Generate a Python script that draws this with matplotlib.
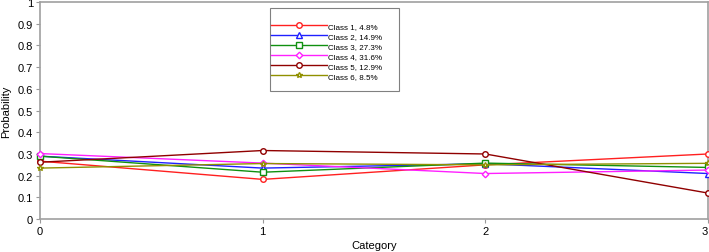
import matplotlib.pyplot as plt
from matplotlib.patches import Rectangle
import numpy as np

plt.rcParams['font.family'] = ['Liberation Sans', 'DejaVu Sans']

categories = [0, 1, 2, 3]
labels = ['Class 1, 4.8%', 'Class 2, 14.9%', 'Class 3, 27.3%',
          'Class 4, 31.6%', 'Class 5, 12.9%', 'Class 6, 8.5%']
class1 = [0.267, 0.183, 0.250, 0.300]
class2 = [0.290, 0.235, 0.255, 0.210]
class3 = [0.290, 0.216, 0.258, 0.238]
class4 = [0.302, 0.258, 0.210, 0.226]
class5 = [0.262, 0.316, 0.300, 0.120]
class6 = [0.235, 0.256, 0.250, 0.257]
series = [class1, class2, class3, class4, class5, class6]
colors = ['#ff2020', '#2020ff', '#109010', '#ff20ff', '#900000', '#909000']
markers = ['o', '^', 's', 'D', 'o', '*']

W, H = 709, 253
fig = plt.figure(figsize=(7.09, 2.53), dpi=100)
ax = fig.add_axes([0.0564, 0.130, 0.9422, 0.858])

for vals, lab, c, m in zip(series, labels, colors, markers):
    ms = 4 if m != 'D' else 3.3
    ax.plot(categories, vals, color=c, lw=1, marker=m, markersize=ms,
            markerfacecolor='white', markeredgecolor=c, markeredgewidth=1,
            label=lab, clip_on=False, zorder=3)

ax.set_xlim(0, 3)
ax.set_ylim(0, 1)
ax.set_xticks(categories)
ax.set_yticks(np.arange(0, 1.01, 0.1))
ax.set_yticklabels(['0', '0.1', '0.2', '0.3', '0.4', '0.5', '0.6', '0.7', '0.8', '0.9', '1'])
ax.set_xticklabels(['0', '1', '2', '3'])
ax.get_xticklabels()[-1].set_horizontalalignment('right')
ax.tick_params(labelsize=8, length=3, color='#999999', width=0.8, pad=2)
for s in ax.spines.values():
    s.set_color('#a0a0a0')
    s.set_linewidth(1.2)
ax.set_xlabel('Category', fontsize=8, labelpad=3)
ax.set_ylabel('Probability', fontsize=8, labelpad=5)

# legend without frame, box drawn separately
leg = fig.legend(loc='upper left', bbox_to_anchor=(271 / W, 1 - 23 / H),
                 fontsize=5.8, numpoints=1, handlelength=7.0, handletextpad=0.1,
                 labelspacing=0.3, borderpad=0, borderaxespad=0, frameon=False)
fig.patches.append(Rectangle((270 / W, 1 - 92 / H), 129 / W, 83 / H,
                             transform=fig.transFigure, facecolor='none',
                             edgecolor='#808080', linewidth=0.8))

fig.savefig('out.png', dpi=100)
